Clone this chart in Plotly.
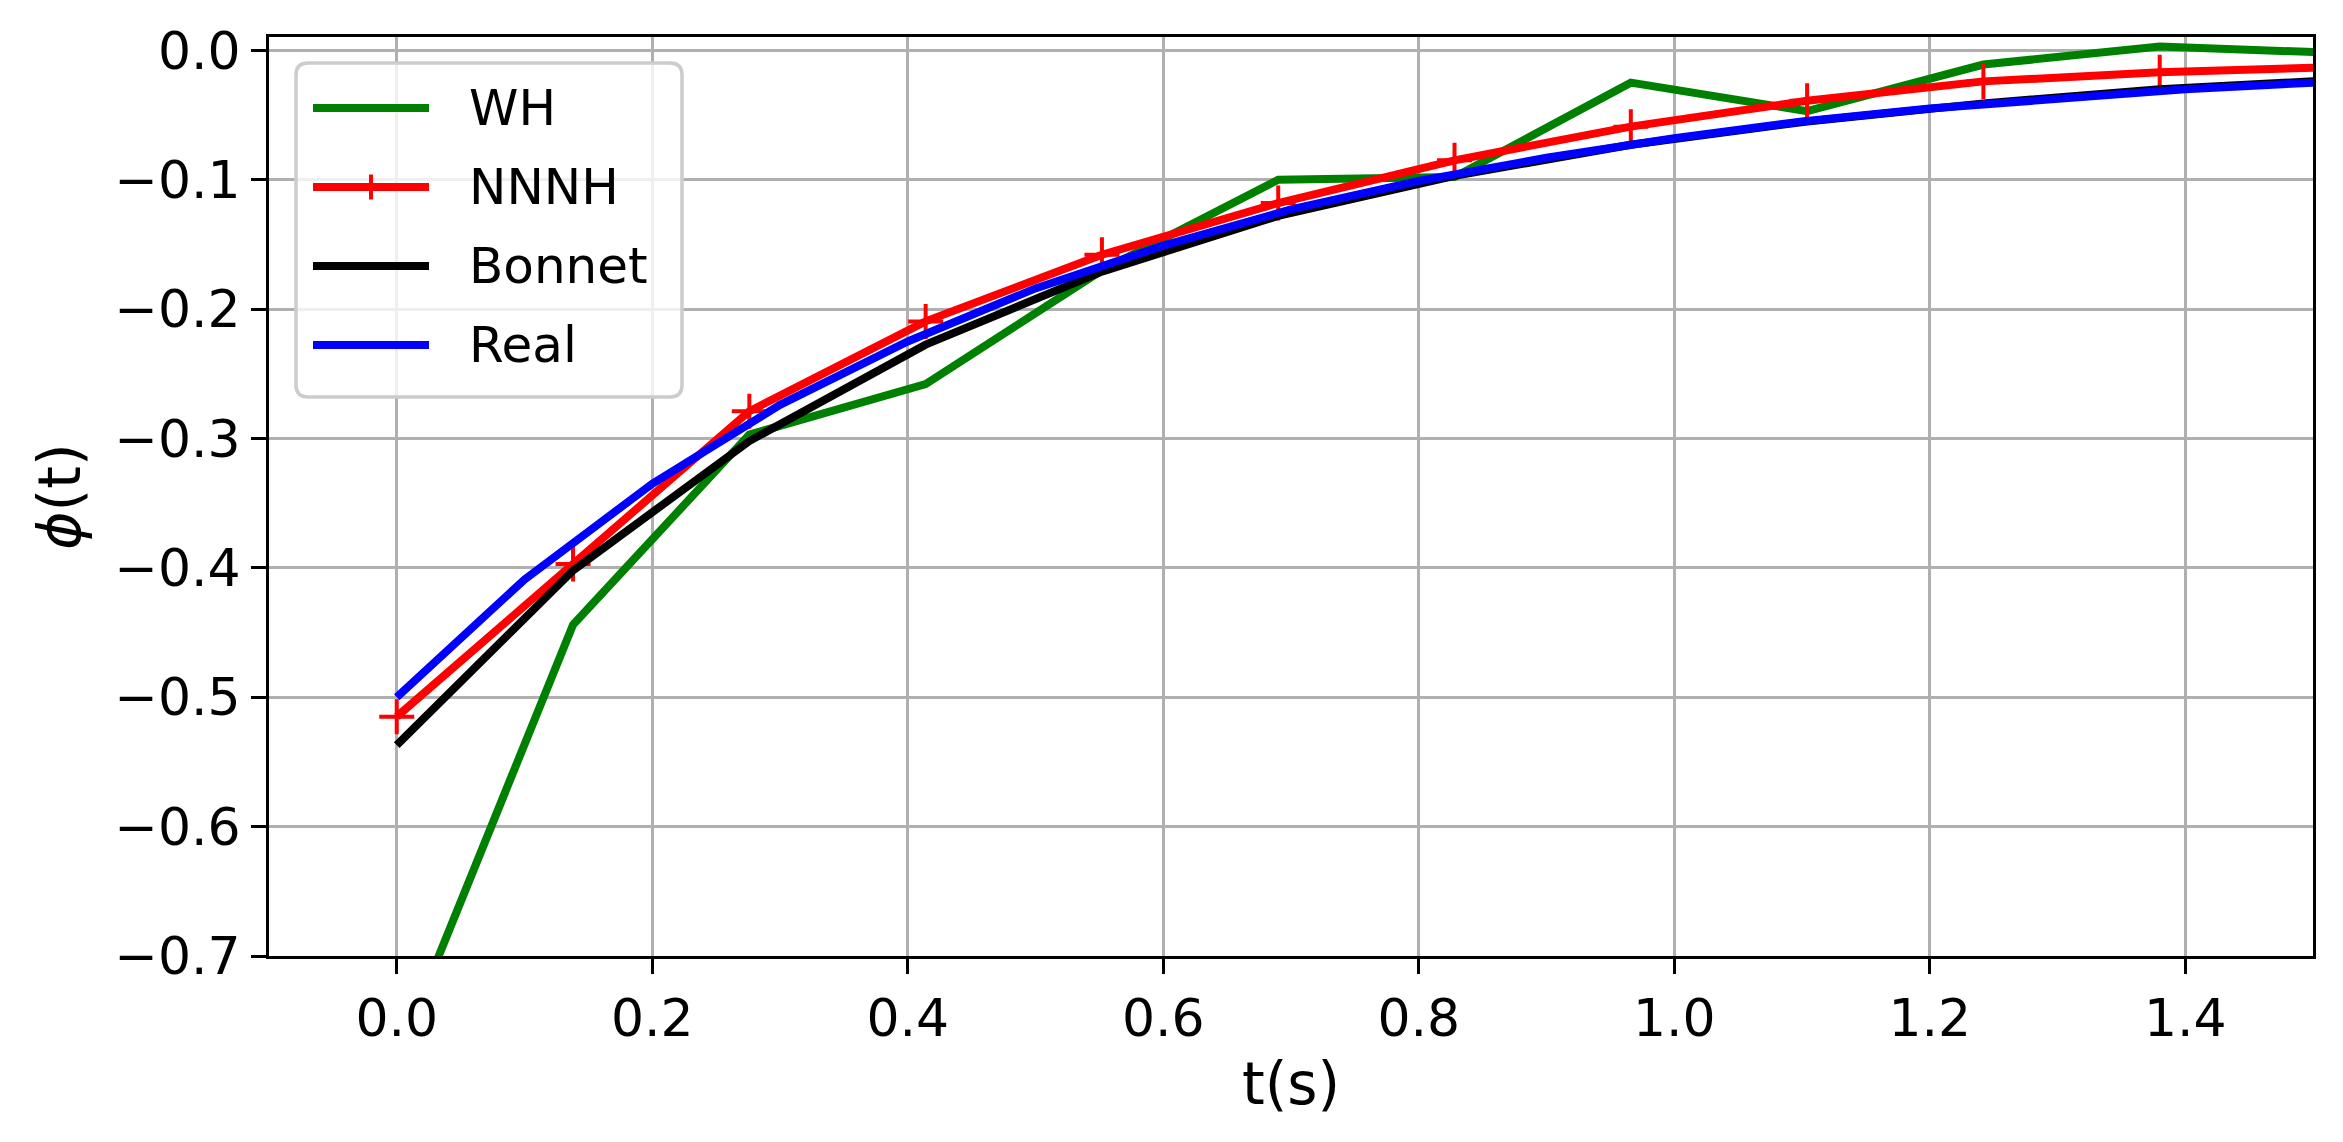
import plotly.graph_objects as go

# ---------------- data ----------------
t_grid = [0.0, 0.138, 0.276, 0.414, 0.552, 0.690, 0.828, 0.966, 1.104, 1.242, 1.380, 1.518]
wh = [-0.780, -0.444, -0.297, -0.258, -0.170, -0.100, -0.098, -0.025, -0.047, -0.011, 0.003, -0.002]
nnnh = [-0.515, -0.397, -0.279, -0.2095, -0.158, -0.118, -0.085, -0.059, -0.039, -0.024, -0.017, -0.013]
bonnet = [-0.537, -0.402, -0.302, -0.2275, -0.171, -0.128, -0.097, -0.073, -0.055, -0.041, -0.030, -0.023]

t_real = [0.0, 0.1, 0.2, 0.3, 0.4, 0.5, 0.6, 0.7, 0.8, 0.9, 1.0, 1.1, 1.2, 1.3, 1.4, 1.5]
real = [-0.500, -0.409, -0.335, -0.274, -0.225, -0.184, -0.151, -0.123, -0.101, -0.083,
        -0.068, -0.055, -0.045, -0.037, -0.030, -0.025]

x_ticks = [0.0, 0.2, 0.4, 0.6, 0.8, 1.0, 1.2, 1.4]
x_tick_text = ["0.0", "0.2", "0.4", "0.6", "0.8", "1.0", "1.2", "1.4"]
y_ticks = [0.0, -0.1, -0.2, -0.3, -0.4, -0.5, -0.6, -0.7]
y_tick_text = ["0.0", "\u22120.1", "\u22120.2", "\u22120.3", "\u22120.4", "\u22120.5", "\u22120.6", "\u22120.7"]

series_names = ["WH", "NNNH", "Bonnet", "Real"]
series_colors = ["#008000", "#ff0000", "#000000", "#0000ff"]

# ---------------- layout constants ----------------
W, H = 2343, 1142
L, R, T, B = 269, 2313, 37, 956
FONT = "DejaVu Sans"
LW = 8

fig = go.Figure()
xs = [t_grid, t_grid, t_grid, t_real]
ys = [wh, nnnh, bonnet, real]
for i, name in enumerate(series_names):
    kw = dict(mode="lines")
    if name == "NNNH":
        kw = dict(mode="lines+markers",
                  marker=dict(symbol="cross-thin", size=25,
                              line=dict(width=4, color=series_colors[i])))
    fig.add_trace(go.Scatter(x=xs[i], y=ys[i], name=name,
                             line=dict(color=series_colors[i], width=LW),
                             showlegend=False, **kw))

axis_common = dict(
    showline=True, linecolor="black", linewidth=3, mirror=True,
    ticks="outside", ticklen=15, tickwidth=3, tickcolor="black",
    showgrid=True, gridcolor="#b0b0b0", gridwidth=3, zeroline=False,
    tickfont=dict(family=FONT, size=52, color="black"),
)

fig.update_layout(
    width=W, height=H, autosize=False,
    margin=dict(l=L, r=W - R, t=T, b=H - B, pad=0),
    paper_bgcolor="white", plot_bgcolor="white",
    font=dict(family=FONT, color="black"),
    showlegend=False,
    xaxis=dict(range=[-0.1, 1.5], tickvals=x_ticks, ticktext=x_tick_text,
               title=dict(text="t(s)", font=dict(family=FONT, size=58), standoff=16),
               **axis_common),
    yaxis=dict(range=[-0.7, 0.0103], tickvals=y_ticks, ticktext=y_tick_text,
               title=dict(text="<i>\u03d5</i>(t)", font=dict(family=FONT, size=58), standoff=16),
               **axis_common),
)

# ---------------- manual legend (matplotlib style) ----------------
def px(xp):
    return (xp - L) / (R - L)

def py(yp):
    return (B - yp) / (B - T)

bx0, bx1, by0, by1, rad = 296, 682, 63, 397, 12
path = (f"M {px(bx0 + rad)} {py(by0)} L {px(bx1 - rad)} {py(by0)} "
        f"Q {px(bx1)} {py(by0)} {px(bx1)} {py(by0 + rad)} "
        f"L {px(bx1)} {py(by1 - rad)} Q {px(bx1)} {py(by1)} {px(bx1 - rad)} {py(by1)} "
        f"L {px(bx0 + rad)} {py(by1)} Q {px(bx0)} {py(by1)} {px(bx0)} {py(by1 - rad)} "
        f"L {px(bx0)} {py(by0 + rad)} Q {px(bx0)} {py(by0)} {px(bx0 + rad)} {py(by0)} Z")
fig.add_shape(type="path", path=path, xref="paper", yref="paper",
              fillcolor="rgba(255,255,255,0.8)", line=dict(color="#cccccc", width=3.5),
              layer="above")

row_y0, row_dy = 108, 79
line_x0, line_x1, text_x = 313, 429, 467
for i, name in enumerate(series_names):
    yy = row_y0 + i * row_dy
    fig.add_shape(type="line", xref="paper", yref="paper",
                  x0=px(line_x0), x1=px(line_x1), y0=py(yy), y1=py(yy),
                  line=dict(color=series_colors[i], width=LW), layer="above")
    if name == "NNNH":
        cx = (line_x0 + line_x1) / 2
        fig.add_shape(type="line", xref="paper", yref="paper",
                      x0=px(cx), x1=px(cx), y0=py(yy - 12.5), y1=py(yy + 12.5),
                      line=dict(color=series_colors[i], width=4), layer="above")
        fig.add_shape(type="line", xref="paper", yref="paper",
                      x0=px(cx - 12.5), x1=px(cx + 12.5), y0=py(yy), y1=py(yy),
                      line=dict(color=series_colors[i], width=4), layer="above")
    fig.add_annotation(text=name, xref="paper", yref="paper", x=px(text_x), y=py(yy),
                       xanchor="left", yanchor="middle", showarrow=False,
                       font=dict(family=FONT, size=50, color="black"))

fig.write_html("out.html", config={"displayModeBar": False},
               post_script="document.body.style.margin='0';")
